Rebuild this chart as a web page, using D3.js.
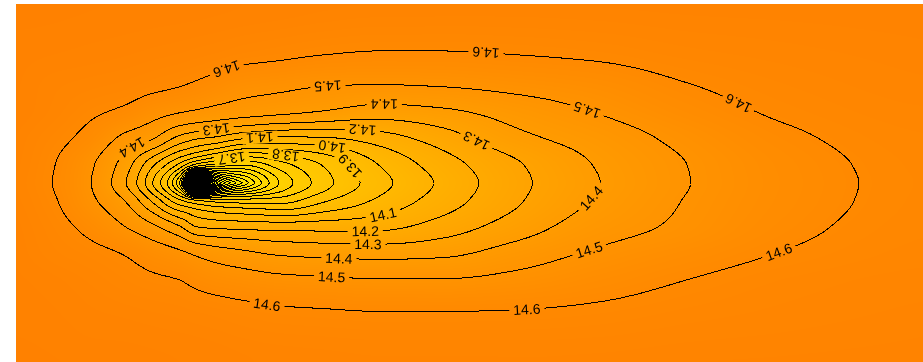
<!DOCTYPE html>
<html>
<head>
<meta charset="utf-8">
<title>Contour map</title>
<script src="https://cdn.jsdelivr.net/npm/d3@7"></script>
<style>
  html, body { margin: 0; padding: 0; background: #ffffff; }
  #chart { position: relative; width: 923px; height: 362px; }
  #chart canvas, #chart svg { position: absolute; left: 0; top: 0; }
  .contour-line { fill: none; stroke: #000; stroke-width: 1; shape-rendering: crispEdges; }
  .contour-label { font-family: "Liberation Sans", Arial, sans-serif; font-size: 14px; fill: #000; }
</style>
</head>
<body>
<div id="chart"></div>
<script>
// Grid node positions (x along the plume, y across it), in km
const gridX = [0, 4, 8, 12, 15, 18, 20, 22, 25, 29, 34, 40, 47, 55, 64, 74, 85, 100];
const gridY = [0, 5, 9, 12, 15, 18, 20, 22, 25, 28, 31, 35, 40];

// Field values at the grid nodes, one array per grid row, listed along gridX
const rowY0  = [14.69, 14.685, 14.68, 14.678, 14.675, 14.672, 14.67, 14.667, 14.662, 14.658, 14.655, 14.652, 14.652, 14.652, 14.655, 14.66, 14.663, 14.668];
const rowY5  = [14.68, 14.675, 14.665, 14.66, 14.655, 14.65, 14.645, 14.64, 14.63, 14.62, 14.615, 14.61, 14.61, 14.612, 14.62, 14.635, 14.645, 14.655];
const rowY9  = [14.675, 14.665, 14.65, 14.63, 14.615, 14.603, 14.581, 14.564, 14.548, 14.53, 14.52, 14.51, 14.51, 14.53, 14.565, 14.602, 14.63, 14.645];
const rowY12 = [14.67, 14.645, 14.625, 14.598, 14.56, 14.525, 14.49, 14.46, 14.43, 14.395, 14.38, 14.372, 14.385, 14.45, 14.516, 14.563, 14.605, 14.634];
const rowY15 = [14.665, 14.63, 14.58, 14.505, 14.43, 14.32, 14.21, 14.19, 14.18, 14.17, 14.17, 14.18, 14.25, 14.35, 14.455, 14.52, 14.583, 14.625];
const rowY18 = [14.655, 14.61, 14.525, 14.40, 14.19, 13.93, 13.82, 13.77, 13.75, 13.76, 13.89, 14.02, 14.15, 14.285, 14.41, 14.505, 14.571, 14.62];
const rowY20 = [14.65, 14.6, 14.51, 14.31, 14.01, 13.5, 11.0, 12.4, 13.0, 13.5, 13.76, 13.96, 14.12, 14.27, 14.395, 14.497, 14.568, 14.618];
const rowY22 = [14.655, 14.605, 14.52, 14.35, 14.12, 13.87, 13.65, 13.56, 13.5, 13.65, 13.81, 14.0, 14.15, 14.285, 14.405, 14.5, 14.571, 14.62];
const rowY25 = [14.66, 14.625, 14.575, 14.475, 14.41, 14.27, 14.21, 14.18, 14.11, 14.08, 14.09, 14.15, 14.25, 14.37, 14.445, 14.525, 14.588, 14.626];
const rowY28 = [14.67, 14.648, 14.615, 14.585, 14.54, 14.508, 14.49, 14.47, 14.448, 14.425, 14.396, 14.356, 14.383, 14.443, 14.504, 14.566, 14.611, 14.637];
const rowY31 = [14.675, 14.655, 14.645, 14.635, 14.62, 14.605, 14.59, 14.57, 14.54, 14.525, 14.506, 14.5, 14.508, 14.529, 14.554, 14.598, 14.628, 14.648];
const rowY35 = [14.68, 14.675, 14.67, 14.665, 14.66, 14.655, 14.65, 14.645, 14.635, 14.625, 14.612, 14.604, 14.604, 14.61, 14.62, 14.638, 14.648, 14.658];
const rowY40 = [14.69, 14.688, 14.685, 14.682, 14.68, 14.678, 14.677, 14.675, 14.672, 14.668, 14.663, 14.66, 14.66, 14.66, 14.662, 14.665, 14.667, 14.67];
const gridRows = [rowY0, rowY5, rowY9, rowY12, rowY15, rowY18, rowY20, rowY22, rowY25, rowY28, rowY31, rowY35, rowY40];

// Contour levels (every 0.1) and the labelled positions on them
const levels = d3.range(111, 147).map(k => k / 10);
const labelLevel = [14.6, 14.6, 14.6, 14.6, 14.6, 14.6, 14.5, 14.5, 14.5, 14.5, 14.4, 14.4, 14.4, 14.4, 14.3, 14.3, 14.3, 14.2, 14.2, 14.1, 14.1, 14.0, 13.9, 13.8, 13.7];
const labelX = [23.4, 51.8, 79.6, 83.9, 56.3, 27.7, 34.4, 62.8, 63.2, 34.8, 40.6, 13.3, 63.0, 35.6, 22.1, 50.8, 38.8, 38.2, 38.5, 26.9, 40.4, 34.8, 36.6, 29.7, 23.8];
const labelY = [32.2, 34.4, 28.8, 12.9, 6.4, 6.6, 30.6, 27.7, 12.5, 9.6, 28.5, 23.1, 18.7, 11.5, 25.9, 24.8, 13.4, 25.9, 14.8, 25.1, 16.8, 23.7, 21.7, 22.9, 22.7];

// Colour ramp: yellow for low values, orange for high values
const colorValues = [11.0, 12.0, 12.8, 13.3, 13.7, 14.0, 14.2, 14.4, 14.5, 14.6, 14.7];
const colorStops = ["#d4ee00", "#f8ff00", "#ffee00", "#ffdb00", "#ffc800", "#ffb800", "#ffaa00", "#ff9b00", "#ff9300", "#ff8900", "#ff8000"];

const W = 923, H = 362;
const xScale = d3.scaleLinear().domain([0, 100]).range([16, 923]);
const yScale = d3.scaleLinear().domain([0, 40]).range([362, 4]);
const color = d3.scaleLinear().domain(colorValues).range(colorStops).clamp(true);

const px0 = xScale.range()[0], px1 = xScale.range()[1];
const py0 = yScale.range()[1], py1 = yScale.range()[0];
const nx = px1 - px0, ny = py1 - py0;
// one sample per screen pixel, at pixel centres
const sx = d3.range(nx).map(i => xScale.invert(px0 + i + 0.5));
const sy = d3.range(ny).map(j => yScale.invert(py0 + j + 0.5));

// Shape-preserving cubic through the grid nodes; a sharp minimum keeps
// its one-sided slopes so the field forms a cone around the source.
const cuspLo = 0.08, cuspHi = 0.3;
function endSlope(h0, h1, d0, d1) {
  let m = ((2 * h0 + h1) * d0 - h0 * d1) / (h0 + h1);
  if (Math.sign(m) !== Math.sign(d0)) m = 0;
  else if (Math.sign(d0) !== Math.sign(d1) && Math.abs(m) > Math.abs(3 * d0)) m = 3 * d0;
  return m;
}
function slopes(xs, ys) {
  const n = xs.length, h = [], d = [], mL = new Array(n), mR = new Array(n);
  for (let k = 0; k < n - 1; k++) { h[k] = xs[k + 1] - xs[k]; d[k] = (ys[k + 1] - ys[k]) / h[k]; }
  for (let k = 1; k < n - 1; k++) {
    if (d[k - 1] * d[k] <= 0) {
      const s = Math.max(0, Math.min(1, (Math.min(Math.abs(d[k - 1]), Math.abs(d[k])) - cuspLo) / (cuspHi - cuspLo)));
      mL[k] = s * d[k - 1];
      mR[k] = s * d[k];
    } else {
      const w1 = 2 * h[k] + h[k - 1], w2 = h[k] + 2 * h[k - 1];
      mL[k] = mR[k] = (w1 + w2) / (w1 / d[k - 1] + w2 / d[k]);
    }
  }
  mL[0] = mR[0] = endSlope(h[0], h[1], d[0], d[1]);
  mL[n - 1] = mR[n - 1] = endSlope(h[n - 2], h[n - 3], d[n - 2], d[n - 3]);
  return { mL, mR };
}
function segIndex(xs, x) {
  const k = d3.bisectRight(xs, x) - 1;
  return Math.max(0, Math.min(xs.length - 2, k));
}
function hermite(xs, ys, m, k, x) {
  const h = xs[k + 1] - xs[k], t = (x - xs[k]) / h, t2 = t * t, t3 = t2 * t;
  return (2 * t3 - 3 * t2 + 1) * ys[k] + (t3 - 2 * t2 + t) * h * m.mR[k]
       + (-2 * t3 + 3 * t2) * ys[k + 1] + (t3 - t2) * h * m.mL[k + 1];
}

// Resample the node grid to the pixel grid: along x first, then along y
const segX = sx.map(x => segIndex(gridX, x));
const segY = sy.map(y => segIndex(gridY, y));
const rowFine = gridRows.map(r => {
  const m = slopes(gridX, r);
  return sx.map((x, i) => hermite(gridX, r, m, segX[i], x));
});
const values = new Float64Array(nx * ny);
for (let i = 0; i < nx; i++) {
  const col = rowFine.map(r => r[i]);
  const m = slopes(gridY, col);
  for (let j = 0; j < ny; j++) values[j * nx + i] = hermite(gridY, col, m, segY[j], sy[j]);
}

// Filled background on a canvas
const chart = d3.select("#chart");
const canvas = chart.append("canvas").attr("width", W).attr("height", H).node();
const ctx = canvas.getContext("2d");
ctx.fillStyle = "#ffffff";
ctx.fillRect(0, 0, W, H);
const lutLo = 10.9, lutHi = 14.75, lutN = 2000;
const lut = d3.range(lutN + 1).map(k => d3.rgb(color(lutLo + k * (lutHi - lutLo) / lutN)));
const img = ctx.createImageData(nx, ny);
for (let p = 0; p < nx * ny; p++) {
  let k = Math.round((values[p] - lutLo) / (lutHi - lutLo) * lutN);
  k = Math.max(0, Math.min(lutN, k));
  const c = lut[k];
  img.data[4 * p] = c.r; img.data[4 * p + 1] = c.g; img.data[4 * p + 2] = c.b; img.data[4 * p + 3] = 255;
}
ctx.putImageData(img, px0, py0);

// Contour lines: regions at or below each level (closed rings inside the map)
const neg = Array.from(values, v => -v);
const contours = d3.contours().size([nx, ny]).thresholds(levels.map(l => -l))(neg);
contours.forEach(c => { c.level = Math.round(-c.value * 10) / 10; });

const gridToX = d3.scaleLinear().domain([0, nx]).range([xScale.invert(px0), xScale.invert(px1)]);
const gridToY = d3.scaleLinear().domain([0, ny]).range([yScale.invert(py0), yScale.invert(py1)]);
const projection = d3.geoTransform({
  point(x, y) { this.stream.point(xScale(gridToX(x)), yScale(gridToY(y))); }
});
const path = d3.geoPath(projection);

const svg = chart.append("svg").attr("width", W).attr("height", H);
const defs = svg.append("defs");
const mask = defs.append("mask").attr("id", "label-gaps")
  .attr("maskUnits", "userSpaceOnUse").attr("x", 0).attr("y", 0).attr("width", W).attr("height", H);
mask.append("rect").attr("width", W).attr("height", H).attr("fill", "#fff");

svg.append("g").attr("mask", "url(#label-gaps)")
  .selectAll("path").data(contours).join("path")
  .attr("class", "contour-line")
  .attr("d", path);

// Field value at a screen position (bilinear on the pixel grid)
function fieldAt(px, py) {
  let fi = px - px0 - 0.5, fj = py - py0 - 0.5;
  fi = Math.max(0, Math.min(nx - 1.001, fi));
  fj = Math.max(0, Math.min(ny - 1.001, fj));
  const i = Math.floor(fi), j = Math.floor(fj), a = fi - i, b = fj - j;
  const v00 = values[j * nx + i], v10 = values[j * nx + i + 1];
  const v01 = values[(j + 1) * nx + i], v11 = values[(j + 1) * nx + i + 1];
  return (1 - a) * (1 - b) * v00 + a * (1 - b) * v10 + (1 - a) * b * v01 + a * b * v11;
}

// Screen-space rings for one level
function ringsFor(level) {
  const c = contours.find(d => Math.abs(d.level - level) < 1e-6);
  const rings = [];
  if (!c) return rings;
  c.coordinates.forEach(poly => poly.forEach(ring => {
    rings.push(ring.map(([x, y]) => [xScale(gridToX(x)), yScale(gridToY(y))]));
  }));
  return rings;
}
function nearestOn(rings, tx, ty) {
  let best = null, bestD = Infinity;
  rings.forEach(ring => {
    for (let k = 0; k < ring.length - 1; k++) {
      const [ax, ay] = ring[k], [bx, by] = ring[k + 1];
      const dx = bx - ax, dy = by - ay, L = dx * dx + dy * dy;
      let t = L > 0 ? ((tx - ax) * dx + (ty - ay) * dy) / L : 0;
      t = Math.max(0, Math.min(1, t));
      const qx = ax + t * dx, qy = ay + t * dy, d = (qx - tx) ** 2 + (qy - ty) ** 2;
      if (d < bestD) { bestD = d; best = [qx, qy]; }
    }
  });
  return best;
}

const fmt = d3.format(".1f");
const labels = [];
labelLevel.forEach((level, k) => {
  const tx = xScale(labelX[k]), ty = yScale(labelY[k]);
  const q = nearestOn(ringsFor(level), tx, ty);
  if (!q) return;
  const [qx, qy] = q;
  const e = 2.5;
  const gx = (fieldAt(qx + e, qy) - fieldAt(qx - e, qy)) / (2 * e);
  const gy = (fieldAt(qx, qy + e) - fieldAt(qx, qy - e)) / (2 * e);
  // text runs along the line with the lower values on its left-hand side
  const angle = Math.atan2(-gx, gy) * 180 / Math.PI;
  labels.push({ level, x: qx, y: qy, angle });
});

const labelGroup = svg.append("g");
const texts = labelGroup.selectAll("text").data(labels).join("text")
  .attr("class", "contour-label")
  .attr("text-anchor", "middle")
  .attr("dominant-baseline", "central")
  .attr("transform", d => `translate(${d.x},${d.y}) rotate(${d.angle})`)
  .text(d => fmt(d.level));

texts.each(function (d) { d.w = this.getComputedTextLength(); });
mask.selectAll("rect.gap").data(labels).join("rect")
  .attr("class", "gap")
  .attr("x", d => -d.w / 2 - 4).attr("y", -6)
  .attr("width", d => d.w + 8).attr("height", 12)
  .attr("fill", "#000")
  .attr("transform", d => `translate(${d.x},${d.y}) rotate(${d.angle})`);
</script>
</body>
</html>
